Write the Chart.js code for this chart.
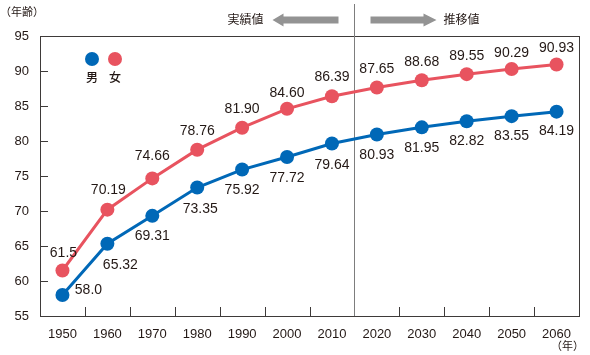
<!DOCTYPE html>
<html><head><meta charset="utf-8">
<script src="https://cdn.jsdelivr.net/npm/chart.js@4"></script>
<style>html,body{margin:0;padding:0;background:#fff}#wrap{width:590px;height:355px;position:relative}</style>
</head><body><div id="wrap"><canvas id="c" width="590" height="355"></canvas></div>
<script>
const years = ['1950','1960','1970','1980','1990','2000','2010','2020','2030','2040','2050','2060'];
const male = [58.0, 65.32, 69.31, 73.35, 75.92, 77.72, 79.64, 80.93, 81.95, 82.82, 83.55, 84.19];
const female = [61.5, 70.19, 74.66, 78.76, 81.90, 84.60, 86.39, 87.65, 88.68, 89.55, 90.29, 90.93];
const maleLabels = ['58.0','65.32','69.31','73.35','75.92','77.72','79.64','80.93','81.95','82.82','83.55','84.19'];
const femaleLabels = ['61.5','70.19','74.66','78.76','81.90','84.60','86.39','87.65','88.68','89.55','90.29','90.93'];
const yTicks = [55, 60, 65, 70, 75, 80, 85, 90, 95];
const legendNames = ['男', '女'];
const yUnit = '（年齢）';
const xUnit = '（年）';
const pastText = '実績値';
const futureText = '推移値';

const BLUE = '#0068b7', RED = '#e8535f', TEXT = '#231815', GRAY = '#939393';
const NUMFONT = '"Liberation Sans", Arial, sans-serif';
const JPFONT = '"Noto Sans CJK JP", sans-serif';

const deco = {
  id: 'deco',
  beforeDatasetsDraw(chart) {
    const ctx = chart.ctx, a = chart.chartArea, xs = chart.scales.x, ys = chart.scales.y;
    ctx.save();
    ctx.strokeStyle = '#3e3a39'; ctx.lineWidth = 1;
    ctx.strokeRect(Math.round(a.left) + 0.5, Math.round(a.top) + 0.5, Math.round(a.right - a.left), Math.round(a.bottom - a.top));
    ctx.beginPath();
    yTicks.forEach(v => { const y = Math.round(ys.getPixelForValue(v)) + 0.5; ctx.moveTo(a.left, y); ctx.lineTo(a.left + 8, y); });
    for (let i = 0; i < years.length - 1; i++) {
      const x = Math.round((xs.getPixelForValue(i) + xs.getPixelForValue(i + 1)) / 2) + 0.5;
      ctx.moveTo(x, a.bottom); ctx.lineTo(x, a.bottom - 9);
    }
    ctx.stroke();
    const dx = Math.round((xs.getPixelForValue(6) + xs.getPixelForValue(7)) / 2) + 0.5;
    ctx.strokeStyle = '#7d7d7d';
    ctx.beginPath(); ctx.moveTo(dx, 4); ctx.lineTo(dx, a.bottom); ctx.stroke();
    ctx.fillStyle = GRAY;
    const ay = 20;
    ctx.beginPath();
    ctx.moveTo(dx - 16, ay - 3.5); ctx.lineTo(dx - 71, ay - 3.5); ctx.lineTo(dx - 71, ay - 6.5);
    ctx.lineTo(dx - 82, ay); ctx.lineTo(dx - 71, ay + 6.5); ctx.lineTo(dx - 71, ay + 3.5); ctx.lineTo(dx - 16, ay + 3.5);
    ctx.closePath(); ctx.fill();
    ctx.beginPath();
    ctx.moveTo(dx + 16, ay - 3.5); ctx.lineTo(dx + 69, ay - 3.5); ctx.lineTo(dx + 69, ay - 6.5);
    ctx.lineTo(dx + 82, ay); ctx.lineTo(dx + 69, ay + 6.5); ctx.lineTo(dx + 69, ay + 3.5); ctx.lineTo(dx + 16, ay + 3.5);
    ctx.closePath(); ctx.fill();
    ctx.fillStyle = TEXT;
    ctx.font = '12px ' + JPFONT; ctx.textBaseline = 'middle';
    ctx.textAlign = 'right'; ctx.fillText(pastText, dx - 91, ay - 1);
    ctx.textAlign = 'left'; ctx.fillText(futureText, dx + 89, ay - 1);
    ctx.font = '11px ' + JPFONT;
    ctx.textAlign = 'left'; ctx.fillText(yUnit, 0, 12);
    ctx.textAlign = 'right'; ctx.fillText(xUnit, 584, 346);
    [BLUE, RED].forEach((c, i) => {
      const lx = 92 + i * 23;
      ctx.fillStyle = c; ctx.beginPath(); ctx.arc(lx, 59, 7, 0, Math.PI * 2); ctx.fill();
      ctx.fillStyle = TEXT; ctx.font = '500 12px ' + JPFONT; ctx.textAlign = 'center';
      ctx.fillText(legendNames[i], lx, 77);
    });
    ctx.restore();
  },
  afterDatasetsDraw(chart) {
    const ctx = chart.ctx;
    ctx.save();
    ctx.font = '14px ' + NUMFONT; ctx.fillStyle = TEXT; ctx.textAlign = 'center'; ctx.textBaseline = 'middle';
    const mOff = [[26, -5], [13, 21], [0, 20], [3, 22], [0, 21], [0, 21], [0, 22], [0, 21], [0, 21], [0, 20], [0, 20], [0, 19]];
    const fOff = [[1, -17], [1, -20], [0, -22], [0, -19], [0, -19], [0, -16], [0, -19], [0, -18], [0, -18], [0, -18], [0, -16], [0, -16]];
    chart.getDatasetMeta(0).data.forEach((p, i) => ctx.fillText(maleLabels[i], p.x + mOff[i][0], p.y + mOff[i][1]));
    chart.getDatasetMeta(1).data.forEach((p, i) => ctx.fillText(femaleLabels[i], p.x + fOff[i][0], p.y + fOff[i][1]));
    ctx.restore();
  }
};

new Chart(document.getElementById('c'), {
  type: 'line',
  data: {
    labels: years,
    datasets: [
      { label: legendNames[0], data: male, borderColor: BLUE, backgroundColor: BLUE, borderWidth: 3, pointRadius: 7, pointHoverRadius: 7, pointBorderWidth: 0, tension: 0 },
      { label: legendNames[1], data: female, borderColor: RED, backgroundColor: RED, borderWidth: 3, pointRadius: 7, pointHoverRadius: 7, pointBorderWidth: 0, tension: 0 }
    ]
  },
  options: {
    responsive: false, animation: false, devicePixelRatio: 1,
    layout: { padding: { top: 36, right: 11, left: 0, bottom: 0 } },
    plugins: { legend: { display: false }, tooltip: { enabled: false } },
    scales: {
      x: {
        type: 'category', offset: true,
        grid: { display: false, drawTicks: false }, border: { display: false },
        ticks: { color: TEXT, font: { family: NUMFONT, size: 13 }, padding: 11, maxRotation: 0, autoSkip: false },
        afterFit(s) { s.height = 39; }
      },
      y: {
        min: 55, max: 95,
        afterBuildTicks(s) { s.ticks = yTicks.map(v => ({ value: v })); },
        grid: { display: false, drawTicks: false }, border: { display: false },
        ticks: { color: TEXT, font: { family: NUMFONT, size: 13 }, padding: 11 },
        afterFit(s) { s.width = 40; }
      }
    }
  },
  plugins: [deco]
});
</script></body></html>
